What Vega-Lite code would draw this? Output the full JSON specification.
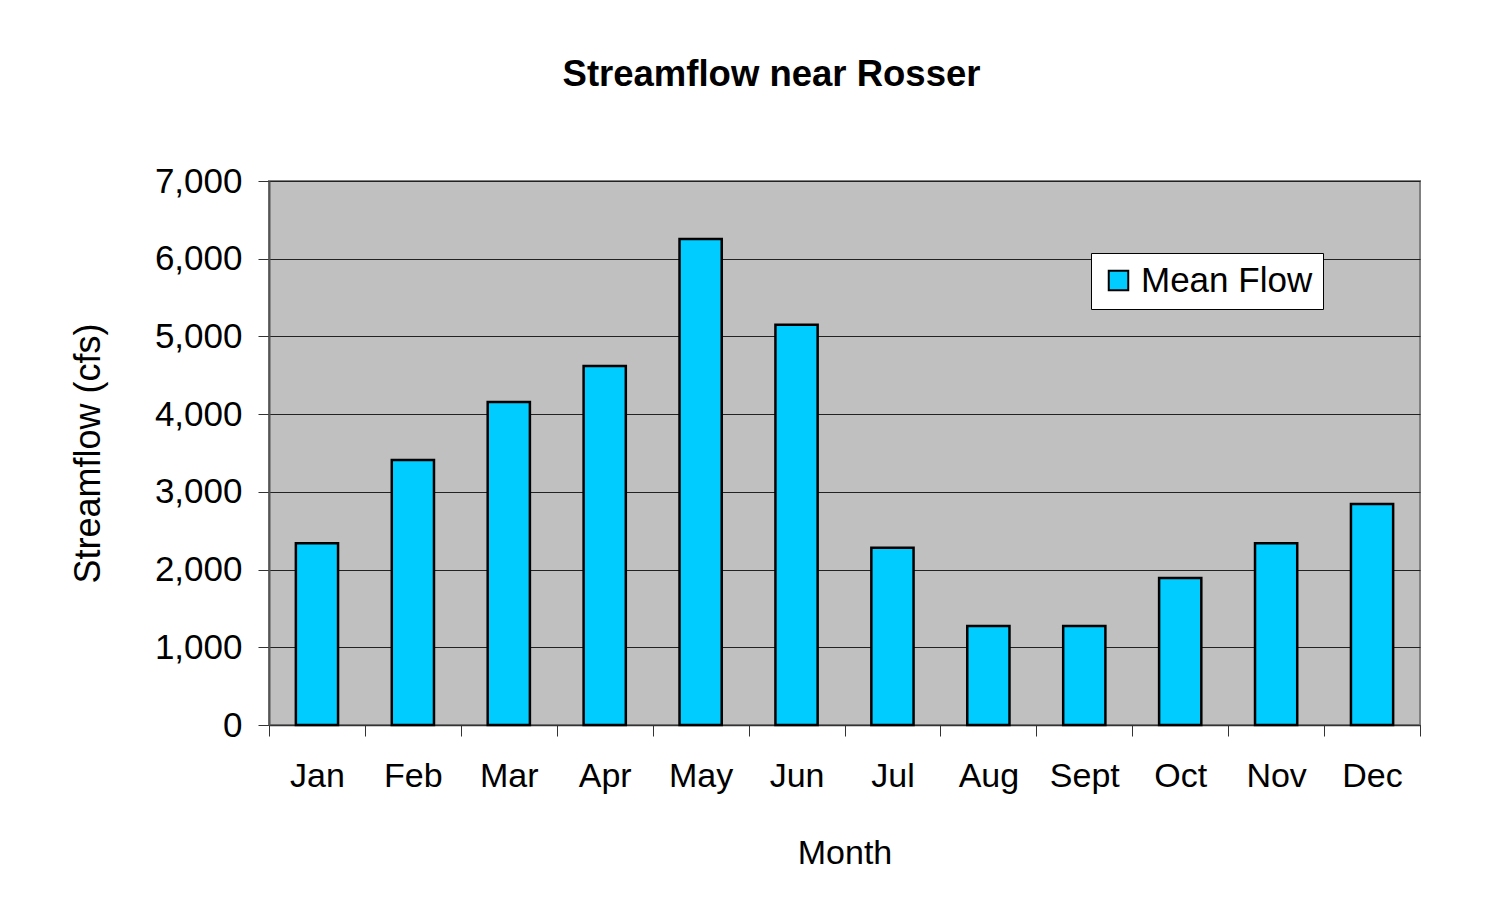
{
  "$schema": "https://vega.github.io/schema/vega-lite/v6.json",
  "autosize": {"type": "none"},
  "width": 1151,
  "height": 544,
  "padding": {"left": 269, "top": 181, "right": 85, "bottom": 199},
  "background": "white",
  "title": {
    "text": "Streamflow near Rosser",
    "font": "Liberation Sans",
    "fontSize": 36.5,
    "fontWeight": "bold",
    "color": "black",
    "anchor": "middle",
    "frame": "group",
    "dx": -73,
    "offset": 71
  },
  "data": {
    "values": [
      {"month": "Jan", "flow": 2340, "series": "Mean Flow"},
      {"month": "Feb", "flow": 3410, "series": "Mean Flow"},
      {"month": "Mar", "flow": 4155, "series": "Mean Flow"},
      {"month": "Apr", "flow": 4620, "series": "Mean Flow"},
      {"month": "May", "flow": 6255, "series": "Mean Flow"},
      {"month": "Jun", "flow": 5150, "series": "Mean Flow"},
      {"month": "Jul", "flow": 2280, "series": "Mean Flow"},
      {"month": "Aug", "flow": 1275, "series": "Mean Flow"},
      {"month": "Sept", "flow": 1275, "series": "Mean Flow"},
      {"month": "Oct", "flow": 1890, "series": "Mean Flow"},
      {"month": "Nov", "flow": 2340, "series": "Mean Flow"},
      {"month": "Dec", "flow": 2845, "series": "Mean Flow"}
    ]
  },
  "mark": {"type": "bar", "stroke": "black", "strokeWidth": 2.5, "width": {"band": 0.44}},
  "encoding": {
    "x": {
      "field": "month",
      "type": "nominal",
      "sort": null,
      "title": "Month",
      "scale": {"paddingInner": 0, "paddingOuter": 0},
      "axis": {
        "labelAngle": 0,
        "tickBand": "extent",
        "tickSize": 11,
        "tickColor": "#333333",
        "domainColor": "#333333",
        "domainWidth": 1.5,
        "labelPadding": 23,
        "titlePadding": 43
      }
    },
    "y": {
      "field": "flow",
      "type": "quantitative",
      "title": "Streamflow (cfs)",
      "scale": {"domain": [0, 7000]},
      "axis": {
        "values": [0, 1000, 2000, 3000, 4000, 5000, 6000, 7000],
        "format": ",d",
        "grid": true,
        "gridColor": "#222222",
        "gridWidth": 1,
        "tickSize": 11,
        "tickColor": "#333333",
        "domainColor": "#555555",
        "domainWidth": 2,
        "labelPadding": 16,
        "labelFontSize": 35,
        "titleFontSize": 36,
        "titlePadding": 47
      }
    },
    "color": {
      "field": "series",
      "type": "nominal",
      "scale": {"range": ["#00ccff"]},
      "legend": {
        "title": null,
        "orient": "none",
        "legendX": 822,
        "legendY": 72,
        "padding": 10,
        "fillColor": "white",
        "strokeColor": "black",
        "symbolType": "square",
        "symbolSize": 380,
        "symbolStrokeColor": "black",
        "symbolStrokeWidth": 2,
        "labelFontSize": 35,
        "labelFont": "Liberation Sans",
        "labelColor": "black",
        "labelOffset": 5,
        "labelLimit": 400
      }
    }
  },
  "config": {
    "font": "Liberation Sans",
    "view": {"fill": "#c0c0c0", "stroke": "#808080", "strokeWidth": 2},
    "axis": {
      "labelFont": "Liberation Sans",
      "labelFontSize": 34,
      "labelColor": "black",
      "titleFont": "Liberation Sans",
      "titleFontSize": 34,
      "titleFontWeight": "normal",
      "titleColor": "black"
    }
  }
}
